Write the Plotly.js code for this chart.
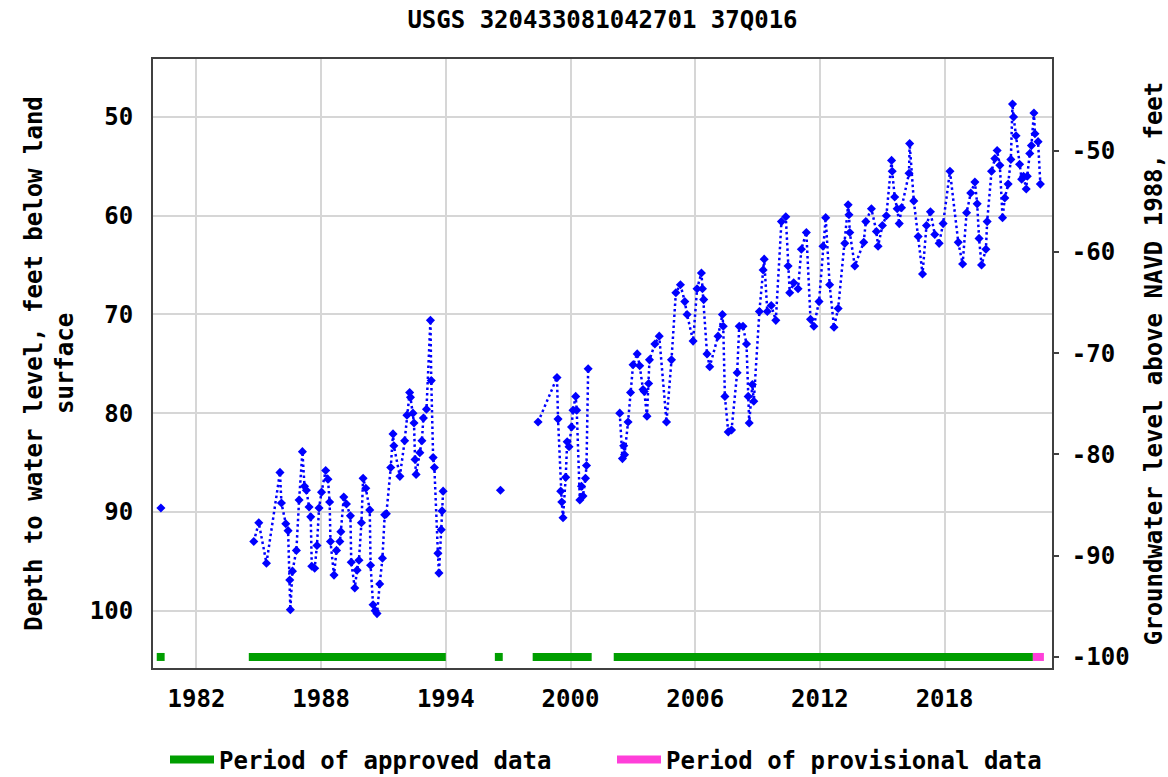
<!DOCTYPE html>
<html>
<head>
<meta charset="utf-8">
<script src="https://cdn.plot.ly/plotly-3.0.1.min.js"></script>
<style>html,body{margin:0;padding:0;background:#fff;}#chart{width:1168px;height:777px;}</style>
</head>
<body>
<div id="chart"></div>
<script>
// ---- data ----
const TITLE = "USGS 320433081042701 37Q016";
const Y_LEFT_TITLE = "Depth to water level, feet below land<br>surface";
const Y_RIGHT_TITLE = "Groundwater level above NAVD 1988, feet";
const LEGEND_APPROVED = "Period of approved data";
const LEGEND_PROVISIONAL = "Period of provisional data";

const A_YEARS = [1980.29];
const A_DEPTHS = [89.6];

const B_YEARS = [1984.76,1985.00,1985.37,1986.02,1986.09,1986.30,1986.41,1986.49,1986.52,1986.62,
  1986.81,1986.94,1987.10,1987.20,1987.29,1987.42,1987.50,1987.55,1987.69,1987.80,
  1987.90,1988.02,1988.22,1988.33,1988.41,1988.45,1988.62,1988.74,1988.90,1988.95,
  1989.09,1989.22,1989.41,1989.45,1989.62,1989.73,1989.82,1989.94,1990.02,1990.15,
  1990.34,1990.38,1990.50,1990.60,1990.69,1990.82,1990.95,1991.06,1991.14,1991.35,
  1991.46,1991.50,1991.79,1992.02,1992.13,1992.26,1992.30,1992.42,1992.47,1992.52,
  1992.57,1992.75,1992.85,1992.92,1993.07,1993.26,1993.30,1993.39,1993.45,1993.62,
  1993.67,1993.78,1993.82,1993.87];
const B_DEPTHS = [93.0,91.1,95.2,86.0,89.1,91.2,91.9,96.9,99.9,96.0,
  93.9,88.8,83.9,87.4,87.8,89.5,90.5,95.5,95.7,93.4,
  89.6,88.0,85.8,86.7,89.0,93.0,96.4,93.9,93.0,92.0,
  88.5,89.2,90.4,95.1,97.7,95.9,94.9,91.1,86.6,87.6,
  89.8,95.4,99.4,100.0,100.3,97.3,94.7,90.3,90.2,85.5,
  82.1,83.3,86.4,82.8,80.2,77.9,78.4,80.0,81.0,84.7,
  86.2,84.0,82.8,80.5,79.6,70.6,76.7,84.5,85.5,94.2,
  96.2,91.8,89.9,87.9];

const C_YEARS = [1996.63];
const C_DEPTHS = [87.8];

const D_YEARS = [1998.44,1999.35,1999.40,1999.53,1999.58,1999.64,1999.77,1999.84,1999.93,2000.05,
  2000.12,2000.25,2000.30,2000.45,2000.53,2000.60,2000.72,2000.77,2000.85];
const D_DEPTHS = [80.9,76.4,80.6,87.9,89.0,90.6,86.5,82.9,83.4,81.4,
  79.7,78.3,79.7,88.8,87.4,88.4,86.6,85.3,75.5];

const E_YEARS = [2002.37,2002.50,2002.56,2002.60,2002.77,2002.89,2003.01,2003.21,2003.33,2003.49,
  2003.55,2003.68,2003.76,2003.80,2004.06,2004.27,2004.62,2004.86,2005.07,2005.29,
  2005.50,2005.61,2005.90,2006.09,2006.30,2006.35,2006.41,2006.57,2006.70,2007.10,
  2007.31,2007.35,2007.43,2007.59,2007.75,2008.02,2008.12,2008.30,2008.47,2008.55,
  2008.60,2008.75,2008.82,2009.09,2009.27,2009.32,2009.47,2009.66,2009.88,2010.15,
  2010.36,2010.47,2010.55,2010.74,2010.95,2011.11,2011.35,2011.55,2011.71,2011.96,
  2012.15,2012.28,2012.47,2012.68,2012.88,2013.20,2013.36,2013.40,2013.44,2013.68,
  2014.11,2014.21,2014.48,2014.72,2014.80,2015.01,2015.20,2015.45,2015.48,2015.60,
  2015.72,2015.82,2015.93,2016.29,2016.32,2016.52,2016.73,2016.94,2017.13,2017.32,
  2017.53,2017.74,2017.93,2018.26,2018.66,2018.87,2019.06,2019.26,2019.46,2019.57,
  2019.66,2019.78,2019.99,2020.05,2020.26,2020.42,2020.53,2020.66,2020.79,2020.90,
  2021.06,2021.19,2021.27,2021.32,2021.44,2021.61,2021.71,2021.80,2021.93,2021.98,
  2022.10,2022.18,2022.30,2022.35,2022.50,2022.61];
const E_DEPTHS = [80.0,84.6,83.3,84.2,80.9,77.9,75.1,74.0,75.2,77.6,
  77.8,80.3,77.0,74.6,73.0,72.2,80.9,74.6,67.8,67.0,
  68.7,70.0,72.7,67.4,65.8,67.4,68.5,74.0,75.3,72.2,
  70.0,71.2,78.3,81.9,81.7,75.9,71.2,71.2,73.0,78.3,
  81.0,77.1,78.8,69.7,65.5,64.4,69.7,69.1,70.6,60.6,
  60.1,65.1,67.8,66.8,67.4,63.4,61.7,70.5,71.2,68.7,
  63.1,60.2,67.0,71.3,69.4,62.8,58.9,59.9,61.7,65.1,
  62.7,60.6,59.3,61.6,63.1,61.0,60.0,54.4,55.5,58.1,
  59.3,60.8,59.2,55.7,52.7,58.5,62.1,65.9,61.0,59.6,
  61.9,62.8,60.8,55.5,62.7,64.9,59.7,57.7,56.6,58.8,
  62.3,65.0,63.4,60.6,55.5,54.2,53.4,54.9,60.2,58.2,
  56.8,54.3,48.7,50.0,51.9,54.8,56.3,56.0,57.3,56.0,
  53.7,52.9,49.6,51.7,52.5,56.8];

const APPROVED_START = [1980.09,1984.52,1996.36,1998.18,2002.08];
const APPROVED_END   = [1980.47,1994.00,1996.74,2001.02,2022.25];
const PROVISIONAL_START = [2022.25];
const PROVISIONAL_END   = [2022.78];

const LEFT_TICKS = [50,60,70,80,90,100];
const X_TICKS = [1982,1988,1994,2000,2006,2012,2018];
const RIGHT_TICKS = [-50,-60,-70,-80,-90,-100];
const RIGHT_TICK_TEXT = ["-50","-60","-70","-80","-90","-100"];
const PERIOD_LEVEL = -100; // on the right-hand axis

// ---- build traces ----
function joinSegments(segs) {
  const xs = [], ys = [];
  segs.forEach((s, i) => {
    if (i > 0) { xs.push(null); ys.push(null); }
    xs.push(...s[0]); ys.push(...s[1]);
  });
  return [xs, ys];
}
const [obsX, obsY] = joinSegments([[A_YEARS,A_DEPTHS],[B_YEARS,B_DEPTHS],[C_YEARS,C_DEPTHS],[D_YEARS,D_DEPTHS],[E_YEARS,E_DEPTHS]]);

function periods(starts, ends) {
  const xs = [], ys = [];
  starts.forEach((s, i) => {
    if (i > 0) { xs.push(null); ys.push(null); }
    xs.push(s, ends[i]); ys.push(PERIOD_LEVEL, PERIOD_LEVEL);
  });
  return [xs, ys];
}
const [apX, apY] = periods(APPROVED_START, APPROVED_END);
const [prX, prY] = periods(PROVISIONAL_START, PROVISIONAL_END);

const FONT = "DejaVu Sans Mono";
const f = (size) => ({family: FONT, size: size, color: '#000', weight: 'bold'});

const traces = [
  {x: obsX, y: obsY, type: 'scatter', mode: 'lines+markers', yaxis: 'y', showlegend: false,
   line: {color: '#0000ff', width: 2.5, dash: '2.5px,3px'},
   marker: {symbol: 'diamond', size: 7, color: '#0000ff'}, hoverinfo: 'x+y'},
  {x: apX, y: apY, type: 'scatter', mode: 'lines', yaxis: 'y2', name: LEGEND_APPROVED,
   line: {color: '#009e00', width: 8}},
  {x: prX, y: prY, type: 'scatter', mode: 'lines', yaxis: 'y2', name: LEGEND_PROVISIONAL,
   line: {color: '#ff3fd9', width: 8}}
];

const layout = {
  width: 1168, height: 777,
  margin: {l: 153, r: 116, t: 59, b: 109, pad: 0},
  paper_bgcolor: '#fff', plot_bgcolor: '#fff',
  font: f(24),
  title: {text: TITLE, x: 0.5, xref: 'paper', xanchor: 'center', y: 1 - 20/777, yref: 'container', yanchor: 'middle', font: f(24)},
  xaxis: {range: [1979.91, 2023.17], tickvals: X_TICKS, showgrid: true, gridcolor: '#d6d6d6', gridwidth: 2,
    showline: true, mirror: true, linecolor: '#404040', linewidth: 2, ticks: '', zeroline: false,
    tickfont: f(24), ticklabelstandoff: 8, automargin: false},
  yaxis: {range: [105.81, 44.13], tickvals: LEFT_TICKS, showgrid: true, gridcolor: '#d6d6d6', gridwidth: 2,
    showline: true, mirror: true, linecolor: '#404040', linewidth: 2, ticks: '', zeroline: false,
    tickfont: f(24), ticklabelstandoff: 13, automargin: false,
    title: {text: Y_LEFT_TITLE, font: f(24), standoff: 9}},
  yaxis2: {overlaying: 'y', side: 'right', range: [-101.09, -40.94], tickvals: RIGHT_TICKS, ticktext: RIGHT_TICK_TEXT,
    ticks: 'outside', ticklen: 6, tickwidth: 2, tickcolor: '#404040', showgrid: false, zeroline: false, showline: false,
    tickfont: f(24), ticklabelstandoff: 8, automargin: false,
    title: {text: Y_RIGHT_TITLE, font: f(24), standoff: 18}},
  showlegend: true,
  legend: {orientation: 'h', xref: 'container', yref: 'container', x: 165 / 1168, xanchor: 'left',
    y: 1 - 760 / 777, yanchor: 'middle',
    font: f(24), itemwidth: 44, entrywidth: 388, bgcolor: 'rgba(0,0,0,0)', tracegroupgap: 0}
};

Plotly.newPlot('chart', traces, layout, {displayModeBar: false, staticPlot: true});
</script>
</body>
</html>
